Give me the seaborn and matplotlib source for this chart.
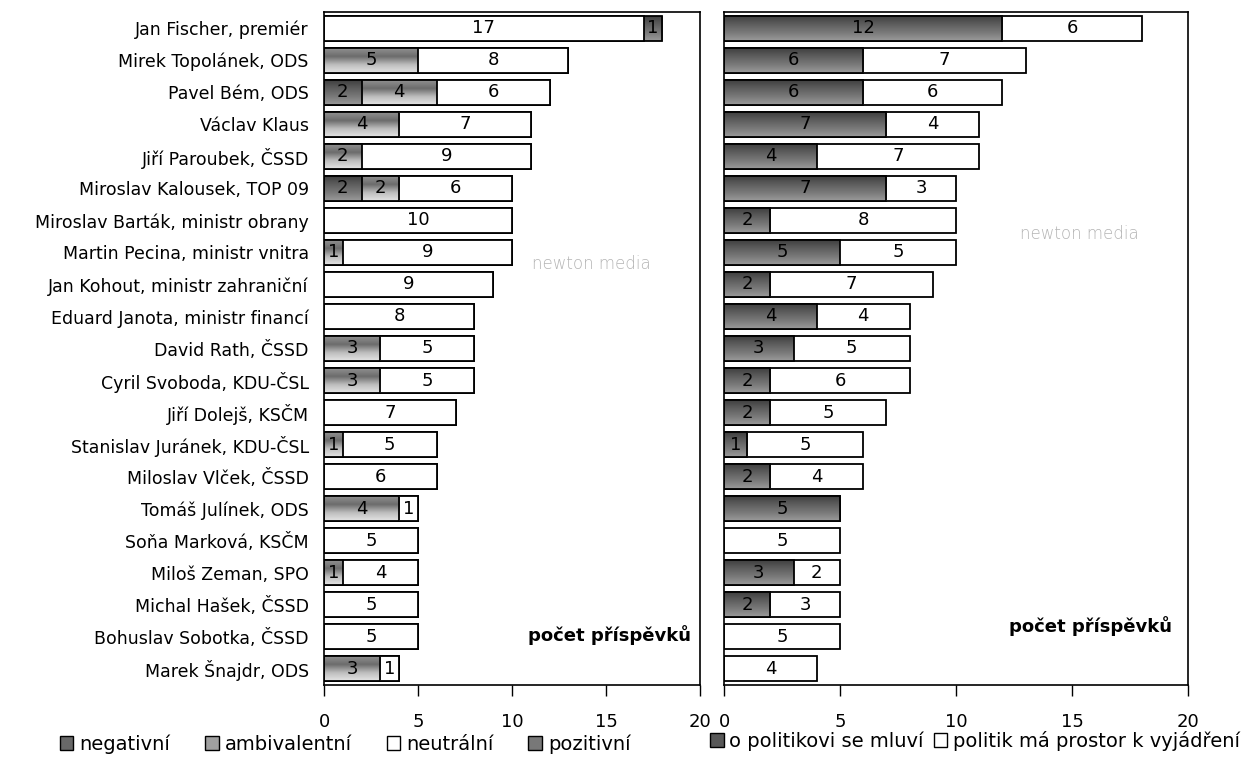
import numpy as np
import matplotlib
matplotlib.use("Agg")
import matplotlib.pyplot as plt
import matplotlib.patches as mpatches
from matplotlib.colors import LinearSegmentedColormap
import seaborn as sns

sns.set_style("white")
plt.rcParams['font.family'] = ['DejaVu Sans']
plt.rcParams['text.color'] = 'black'
plt.rcParams['xtick.color'] = 'black'
plt.rcParams['ytick.color'] = 'black'
plt.rcParams['axes.labelcolor'] = 'black'

names = ["Jan Fischer, premiér", "Mirek Topolánek, ODS", "Pavel Bém, ODS", "Václav Klaus",
         "Jiří Paroubek, ČSSD", "Miroslav Kalousek, TOP 09", "Miroslav Barták, ministr obrany",
         "Martin Pecina, ministr vnitra", "Jan Kohout, ministr zahraniční",
         "Eduard Janota, ministr financí", "David Rath, ČSSD", "Cyril Svoboda, KDU-ČSL",
         "Jiří Dolejš, KSČM", "Stanislav Juránek, KDU-ČSL", "Miloslav Vlček, ČSSD",
         "Tomáš Julínek, ODS", "Soňa Marková, KSČM", "Miloš Zeman, SPO", "Michal Hašek, ČSSD",
         "Bohuslav Sobotka, ČSSD", "Marek Šnajdr, ODS"]

# left panel: tone of coverage
negativni = [0, 0, 2, 0, 0, 2, 0, 0, 0, 0, 0, 0, 0, 0, 0, 0, 0, 0, 0, 0, 0]
ambivalentni = [0, 5, 4, 4, 2, 2, 0, 1, 0, 0, 3, 3, 0, 1, 0, 4, 0, 1, 0, 0, 3]
neutralni = [17, 8, 6, 7, 9, 6, 10, 9, 9, 8, 5, 5, 7, 5, 6, 1, 5, 4, 5, 5, 1]
pozitivni = [1, 0, 0, 0, 0, 0, 0, 0, 0, 0, 0, 0, 0, 0, 0, 0, 0, 0, 0, 0, 0]

# right panel: role of politician
mluvi = [12, 6, 6, 7, 4, 7, 2, 5, 2, 4, 3, 2, 2, 1, 2, 5, 0, 3, 2, 0, 0]
prostor = [6, 7, 6, 4, 7, 3, 8, 5, 7, 4, 5, 6, 5, 5, 4, 0, 5, 2, 3, 5, 4]

xticks = [0, 5, 10, 15, 20]

dark_cmap = LinearSegmentedColormap.from_list("dark", ["#404040", "#5e5e5e", "#7a7a7a", "#9a9a9a"])
amb_cmap = LinearSegmentedColormap.from_list("amb", ["#909090", "#6c6c6c", "#bdbdbd", "#e4e4e4"])
grad = np.linspace(0, 1, 64).reshape(-1, 1)


def add_gradient(ax, container, cmap, z):
    for p in container:
        x0, y0 = p.get_x(), p.get_y()
        w, h = p.get_width(), p.get_height()
        if w <= 0:
            continue
        im = ax.imshow(grad, extent=[x0, x0 + w, y0 + h, y0], cmap=cmap, aspect='auto',
                       origin='upper', zorder=z, interpolation='bilinear')
        im.set_clip_path(p)
        p.set_facecolor('none')
        p.set_zorder(z + 0.01)


def stacked(ax, layers, names):
    # layers: list of (values, kind) in left-to-right order
    cums = np.cumsum([np.array(v) for v, _ in layers], axis=0)
    # draw from the total downwards so the left parts sit on top
    for i in range(len(layers) - 1, -1, -1):
        kind = layers[i][1]
        z = 2 + (len(layers) - i) * 0.1
        sns.barplot(x=cums[i], y=names, orient='h', color='white', saturation=1,
                    edgecolor='black', linewidth=1.3, width=0.78, ax=ax)
        cont = ax.containers[-1]
        if kind == 'white':
            for p in cont:
                p.set_zorder(z + 0.01)
        else:
            add_gradient(ax, cont, dark_cmap if kind == 'dark' else amb_cmap, z)
    # segment labels
    starts = np.vstack([np.zeros(len(names)), cums[:-1]])
    for (vals, _), st in zip(layers, starts):
        for j, v in enumerate(vals):
            if v > 0:
                ax.text(st[j] + v / 2, j, str(v), ha='center', va='center',
                        fontsize=13, color='black', zorder=10)


fig = plt.figure(figsize=(12.43, 7.58), dpi=100)
ax1 = fig.add_axes([324 / 1243, 73 / 758, 376 / 1243, 673 / 758])
ax2 = fig.add_axes([724 / 1243, 73 / 758, 464 / 1243, 673 / 758])

stacked(ax1, [(negativni, 'dark'), (ambivalentni, 'amb'), (neutralni, 'white'),
              (pozitivni, 'dark')], names)
stacked(ax2, [(mluvi, 'dark'), (prostor, 'white')], names)

for ax in (ax1, ax2):
    ax.set_xlim(0, 20)
    ax.set_ylim(len(names) - 0.5, -0.5)
    ax.set_xticks(xticks)
    ax.set_xticklabels([str(t) for t in xticks], fontsize=13)
    ax.tick_params(axis='x', direction='out', length=8, width=1, pad=12, bottom=True)
    ax.set_xlabel("")
    ax.set_ylabel("")
    for s in ax.spines.values():
        s.set_color('black')
        s.set_linewidth(1.2)

ax1.tick_params(axis='y', length=0, pad=11, labelsize=12.5)
ax2.set_yticks([])

ax1.text(0.975, 0.075, "počet příspěvků", transform=ax1.transAxes, ha='right', va='center',
         fontsize=13, fontweight='bold')
ax2.text(0.965, 0.088, "počet příspěvků", transform=ax2.transAxes, ha='right', va='center',
         fontsize=13, fontweight='bold')

# watermark
ax1.text(0.71, 0.625, "newton media", transform=ax1.transAxes, ha='center', va='center',
         fontsize=12, color='#b4b4b4', fontweight='light')
ax2.text(0.765, 0.67, "newton media", transform=ax2.transAxes, ha='center', va='center',
         fontsize=12, color='#b4b4b4', fontweight='light')

leg1 = [mpatches.Patch(facecolor='#686868', edgecolor='black', label='negativní'),
        mpatches.Patch(facecolor='#a0a0a0', edgecolor='black', label='ambivalentní'),
        mpatches.Patch(facecolor='white', edgecolor='black', label='neutrální'),
        mpatches.Patch(facecolor='#787878', edgecolor='black', label='pozitivní')]
fig.legend(handles=leg1, loc='center', bbox_to_anchor=(345 / 1243, 1 - 744 / 758), ncol=4,
           frameon=False, fontsize=14, handlelength=0.7, handleheight=0.7,
           handletextpad=0.3, columnspacing=1.8, borderaxespad=0, borderpad=0)

leg2 = [mpatches.Patch(facecolor='#585858', edgecolor='black', label='o politikovi se mluví'),
        mpatches.Patch(facecolor='white', edgecolor='black', label='politik má prostor k vyjádření')]
fig.legend(handles=leg2, loc='center', bbox_to_anchor=(975 / 1243, 1 - 741 / 758), ncol=2,
           frameon=False, fontsize=14, handlelength=0.7, handleheight=0.7,
           handletextpad=0.3, columnspacing=0.5, borderaxespad=0, borderpad=0)

plt.savefig("out.png", dpi=100)
plt.close()
